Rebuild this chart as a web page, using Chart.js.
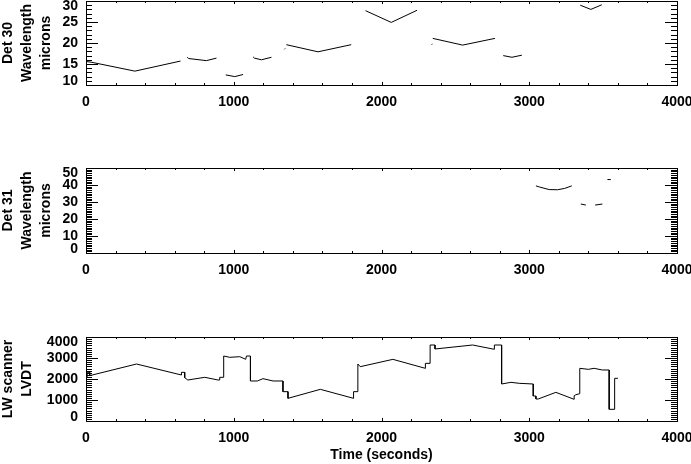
<!DOCTYPE html>
<html>
<head>
<meta charset="utf-8">
<script src="https://cdn.jsdelivr.net/npm/chart.js@4/dist/chart.umd.min.js"></script>
<style>
body { margin: 0; background: #fff; width: 691px; height: 464px; position: relative; overflow: hidden; }
canvas { position: absolute; left: 0; }
</style>
</head>
<body>
<canvas id="det30" width="691" height="120" style="top:0px"></canvas>
<canvas id="det31" width="691" height="130" style="top:150px"></canvas>
<canvas id="lvdt" width="691" height="144" style="top:320px"></canvas>
<script>
// Det 30 wavelength (microns) vs time, null = gap between scans
var det30Time = [0, 40, 331, 640, 660, 685, 695, 815, 883, 910, 946, 1007, 1063, 1100, 1131, 1140, 1187, 1255, 1300, 1343, 1348, 1352, 1356, 1570, 1795, 1830, 1856, 1860, 1876, 1892, 2066, 2241, 2300, 2340, 2344, 2345, 2347, 2549, 2768, 2800, 2824, 2883, 2950, 3100, 3345, 3417, 3491];
var det30Wave = [15.6, 15.4, 13.3, 15.7, null, 16.6, 16.3, 15.8, 16.4, null, 12.4, 12.0, 12.5, null, 16.7, 16.4, 16.0, 16.6, null, 18.5, 18.7, null, 19.6, 17.9, 19.6, null, 27.2, 27.2, null, 27.7, 24.9, 27.8, null, 19.6, 19.8, null, 21.1, 19.5, 21.1, null, 17.0, 16.6, 17.1, null, 29.0, 28.0, 29.1];

// Det 31 wavelength (microns)
var det31Time = [3045, 3070, 3135, 3191, 3240, 3288, 3320, 3349, 3383, 3410, 3446, 3495, 3510, 3529, 3552];
var det31Wave = [39.5, 38.8, 37.3, 37.2, 38.0, 39.5, null, 28.8, 28.2, null, 28.2, 28.8, null, 43.2, 43.2];

// LW scanner LVDT
var lvdtTime = [0, 8, 8, 25, 25, 342, 646, 646, 668, 668, 689, 804, 894, 905, 905, 932, 932, 973, 1041, 1081, 1086, 1113, 1113, 1160, 1198, 1266, 1333, 1333, 1367, 1367, 1586, 1811, 1811, 1840, 1840, 1856, 2077, 2297, 2297, 2329, 2329, 2362, 2362, 2617, 2764, 2764, 2813, 2813, 2876, 2932, 3027, 3027, 3045, 3045, 3061, 3180, 3304, 3304, 3315, 3342, 3342, 3400, 3439, 3495, 3541, 3541, 3574, 3574, 3580, 3580, 3600];
var lvdtValue = [2100, 2100, 2320, 2320, 2160, 2714, 2190, 2317, 2317, 2063, 1952, 2080, 1952, 1952, 2080, 2080, 3095, 3032, 3063, 2938, 3095, 3095, 1905, 1905, 2016, 1905, 1905, 1397, 1397, 1079, 1508, 1079, 1397, 1397, 2714, 2587, 2936, 2508, 2746, 2746, 3619, 3619, 3429, 3619, 3413, 3619, 3619, 1762, 1841, 1794, 1762, 1190, 1190, 1048, 1048, 1365, 1032, 1206, 1250, 1300, 2508, 2460, 2508, 2429, 2429, 556, 556, 604, 604, 2032, 2032];

var xTicks = [0, 1000, 2000, 3000, 4000];

var FONT = { family: 'Liberation Sans, Arial, sans-serif', size: 14, weight: 'bold' };

// IDL style box with inward ticks on all four sides, y labels kept inside the box height
var idlBox = {
  id: 'idlBox',
  afterDraw: function(chart, args, opts) {
    var ctx = chart.ctx, a = chart.chartArea;
    var xs = chart.scales.x, ys = chart.scales.y;
    var L = Math.round(a.left), R = Math.round(a.right), T = Math.round(a.top), B = Math.round(a.bottom);
    ctx.save();
    ctx.strokeStyle = '#000';
    ctx.lineWidth = 1;
    ctx.strokeRect(L + 0.5, T + 0.5, R - L, B - T);
    ctx.beginPath();
    var v, p, len;
    for (v = xs.min; v <= xs.max + 1e-9; v += opts.xMinor) {
      p = Math.round(xs.getPixelForValue(v)) + 0.5;
      len = (v % opts.xMajor === 0) ? 3 : 2;
      ctx.moveTo(p, B); ctx.lineTo(p, B - len);
      ctx.moveTo(p, T); ctx.lineTo(p, T + len);
    }
    for (v = ys.min; v <= ys.max + 1e-9; v += opts.yMinor) {
      p = Math.round(ys.getPixelForValue(v)) + 0.5;
      var r = v / opts.yMajor;
      len = Math.abs(r - Math.round(r)) < 1e-6 ? 12 : 6;
      ctx.moveTo(L, p); ctx.lineTo(L + len, p);
      ctx.moveTo(R, p); ctx.lineTo(R - len, p);
    }
    ctx.stroke();

    ctx.fillStyle = '#000';
    ctx.font = FONT.weight + ' ' + FONT.size + 'px ' + FONT.family;
    ctx.textAlign = 'right';
    ctx.textBaseline = 'middle';
    ys.ticks.forEach(function(t) {
      var y = ys.getPixelForValue(t.value);
      y = Math.max(T + 5, Math.min(B - 4, y));
      ctx.fillText(String(t.value), L - 8, y);
    });
    ctx.restore();
  }
};

function makePanel(id, times, values, yMin, yMax, yStep, yMinor, title, top, bottom, xTitle) {
  var canvas = document.getElementById(id);
  var pts = times.map(function(t, i) { return { x: t, y: values[i] }; });
  return new Chart(canvas.getContext('2d'), {
    type: 'line',
    data: {
      datasets: [{
        data: pts,
        borderColor: '#000',
        borderWidth: 1,
        pointRadius: 0,
        tension: 0,
        spanGaps: false
      }]
    },
    options: {
      responsive: false,
      animation: false,
      events: [],
      layout: { padding: { top: top, left: 0, right: 14, bottom: 0 } },
      plugins: {
        legend: { display: false },
        tooltip: { enabled: false },
        idlBox: { xMinor: 200, xMajor: 1000, yMinor: yMinor, yMajor: yStep }
      },
      scales: {
        x: {
          type: 'linear',
          min: 0,
          max: 4000,
          afterBuildTicks: function(s) { s.ticks = xTicks.map(function(v) { return { value: v }; }); },
          afterFit: function(s) { s.height = canvas.height - bottom; s.paddingLeft = 0; s.paddingRight = 0; },
          grid: { display: false, drawTicks: false },
          border: { display: false },
          ticks: {
            color: '#000', font: FONT, padding: 9, maxRotation: 0, autoSkip: false,
            callback: function(v) { return String(v); }
          },
          title: { display: !!xTitle, text: xTitle, color: '#000', font: FONT, padding: { top: 3, bottom: 0 } }
        },
        y: {
          min: yMin,
          max: yMax,
          afterFit: function(s) { s.width = 86; s.paddingTop = 0; s.paddingBottom = 0; },
          grid: { display: false, drawTicks: false },
          border: { display: false },
          ticks: { display: false, stepSize: yStep, autoSkip: false },
          title: { display: true, text: title, color: '#000', font: Object.assign({ lineHeight: 1.35 }, FONT), padding: { top: -1, bottom: 0 } }
        }
      }
    },
    plugins: [idlBox]
  });
}

makePanel('det30', det30Time, det30Wave, 10, 30, 5, 1, ['Det 30', 'Wavelength', 'microns'], 1, 85, '');
makePanel('det31', det31Time, det31Wave, 0, 50, 10, 1, ['Det 31', 'Wavelength', 'microns'], 18, 103, '');
makePanel('lvdt', lvdtTime, lvdtValue, 0, 4000, 1000, 100, ['LW scanner', 'LVDT'], 17, 101, 'Time (seconds)');
</script>
</body>
</html>
